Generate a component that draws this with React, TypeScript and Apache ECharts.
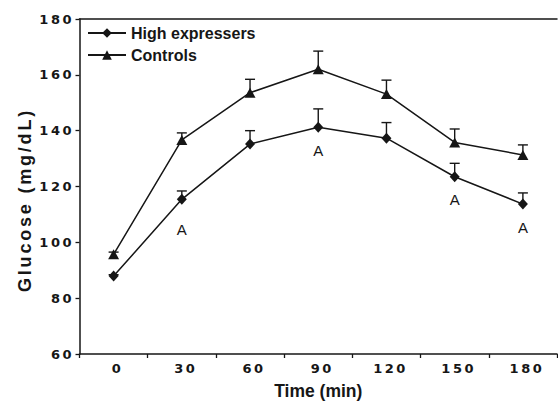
import React, { useEffect, useRef } from "react";
import * as echarts from "echarts";

const timePoints = ["0", "30", "60", "90", "120", "150", "180"];
const highExpressers = [87.9, 115.4, 135.2, 141.2, 137.3, 123.5, 113.7];
const highErr = [0.5, 3.0, 4.8, 6.6, 5.6, 4.8, 4.0];
const controls = [95.7, 136.7, 153.6, 162.0, 153.1, 135.8, 131.3];
const controlsErr = [0.8, 2.5, 4.8, 6.5, 5.0, 4.8, 3.6];
const sigLetters = ["", "A", "", "A", "", "A", "A"];
const yMin = 60;
const yMax = 180;
const yInterval = 20;

const FONT = "'Liberation Sans', Arial, Helvetica, sans-serif";
const TICK_FONT = "'DejaVu Sans', Verdana, sans-serif";
const INK = "#161616";

export default function App() {
  const ref = useRef<HTMLDivElement>(null);

  useEffect(() => {
    const el = ref.current;
    if (!el) return;
    const chart = echarts.init(el, undefined, { renderer: "svg" });

    const errData = (vals: number[], errs: number[]) =>
      vals.map((v, i) => [i, v, v + errs[i]]);

    const errSeries = (name: string, vals: number[], errs: number[]) => ({
      type: "custom",
      name,
      silent: true,
      z: 1,
      encode: { x: 0, y: [1, 2] },
      data: errData(vals, errs),
      renderItem: (_params: any, api: any) => {
        const i = api.value(0);
        const lo = api.coord([i, api.value(1)]);
        const hi = api.coord([i, api.value(2)]);
        const half = 5;
        const style = { stroke: INK, lineWidth: 1.4 };
        return {
          type: "group",
          children: [
            { type: "line", shape: { x1: lo[0], y1: lo[1], x2: hi[0], y2: hi[1] }, style },
            { type: "line", shape: { x1: hi[0] - half, y1: hi[1], x2: hi[0] + half, y2: hi[1] }, style },
          ],
        };
      },
    });

    const highData = highExpressers.map((v, i) => {
      const letter = sigLetters[i];
      if (!letter) return { value: v };
      return {
        value: v,
        label: {
          show: true,
          position: "inside",
          formatter: letter,
          offset: [0, i === 1 ? 30 : 23],
          color: INK,
          fontSize: 15,
          fontWeight: "normal",
          fontFamily: FONT,
        },
      };
    });

    const axisLabelStyle = {
      color: INK,
      fontSize: 13,
      fontWeight: "bold",
      fontFamily: TICK_FONT,
    };

    const option: any = {
      animation: false,
      backgroundColor: "#ffffff",
      textStyle: { fontFamily: FONT },
      grid: {
        left: 79.5,
        right: 1,
        top: 19,
        bottom: 48,
        containLabel: false,
        outerBoundsMode: "none",
      },
      legend: {
        orient: "vertical",
        left: 87,
        top: 25,
        padding: 0,
        itemWidth: 38,
        itemHeight: 12,
        itemGap: 6,
        itemTextGap: 4,
        selectedMode: false,
        data: ["High expressers", "Controls"],
        textStyle: { color: INK, fontSize: 16, fontWeight: "bold", fontFamily: FONT },
      },
      xAxis: [
        {
          type: "category",
          data: timePoints,
          boundaryGap: true,
          name: "Time (min)",
          nameLocation: "middle",
          nameGap: 28,
          nameTextStyle: { color: INK, fontSize: 17.5, fontWeight: "bold", fontFamily: FONT },
          axisLine: { show: true, lineStyle: { color: INK, width: 1.5 } },
          axisTick: { show: true, alignWithLabel: false, length: 4, lineStyle: { color: INK, width: 1.3 } },
          axisLabel: { ...axisLabelStyle, margin: 8, padding: [0, 0, 0, 8] },
          splitLine: { show: false },
        },
        {
          type: "category",
          data: timePoints,
          position: "top",
          axisLine: { show: true, lineStyle: { color: INK, width: 1.5 } },
          axisTick: { show: false },
          axisLabel: { show: false },
          splitLine: { show: false },
        },
      ],
      yAxis: {
        type: "value",
        min: yMin,
        max: yMax,
        interval: yInterval,
        axisLine: { show: true, lineStyle: { color: INK, width: 1.5 } },
        axisTick: { show: true, length: 4, lineStyle: { color: INK, width: 1.3 } },
        axisLabel: { ...axisLabelStyle, margin: 5.5 },
        splitLine: { show: false },
      },
      graphic: [
        {
          type: "text",
          x: 24.5,
          y: 200,
          rotation: Math.PI / 2,
          silent: true,
          style: {
            text: "Glucose (mg/dL)",
            fill: INK,
            font: `bold 18px ${FONT}`,
            textAlign: "center",
            textVerticalAlign: "middle",
          },
        },
      ],
      series: [
        errSeries("errHigh", highExpressers, highErr),
        errSeries("errControls", controls, controlsErr),
        {
          type: "line",
          name: "High expressers",
          data: highData,
          symbol: "diamond",
          symbolSize: [10, 11],
          z: 3,
          silent: true,
          lineStyle: { color: INK, width: 1.5 },
          itemStyle: { color: INK, borderWidth: 0 },
          emphasis: { disabled: true },
        },
        {
          type: "line",
          name: "Controls",
          data: controls,
          symbol: "triangle",
          symbolSize: [11, 10],
          z: 3,
          silent: true,
          lineStyle: { color: INK, width: 1.5 },
          itemStyle: { color: INK, borderWidth: 0 },
          emphasis: { disabled: true },
        },
      ],
    };

    const applySpacing = () => {
      el.querySelectorAll("text").forEach((t) => {
        const s = t.textContent || "";
        if (/^\d+$/.test(s)) t.setAttribute("letter-spacing", "2.5");
        else if (s.indexOf("Glucose") === 0) t.setAttribute("letter-spacing", "2.8");
      });
    };

    chart.setOption(option);
    applySpacing();
    chart.on("finished", applySpacing);

    return () => {
      chart.dispose();
    };
  }, []);

  return (
    <div
      ref={ref}
      style={{ position: "fixed", left: 0, top: 0, width: 558, height: 402 }}
    />
  );
}
